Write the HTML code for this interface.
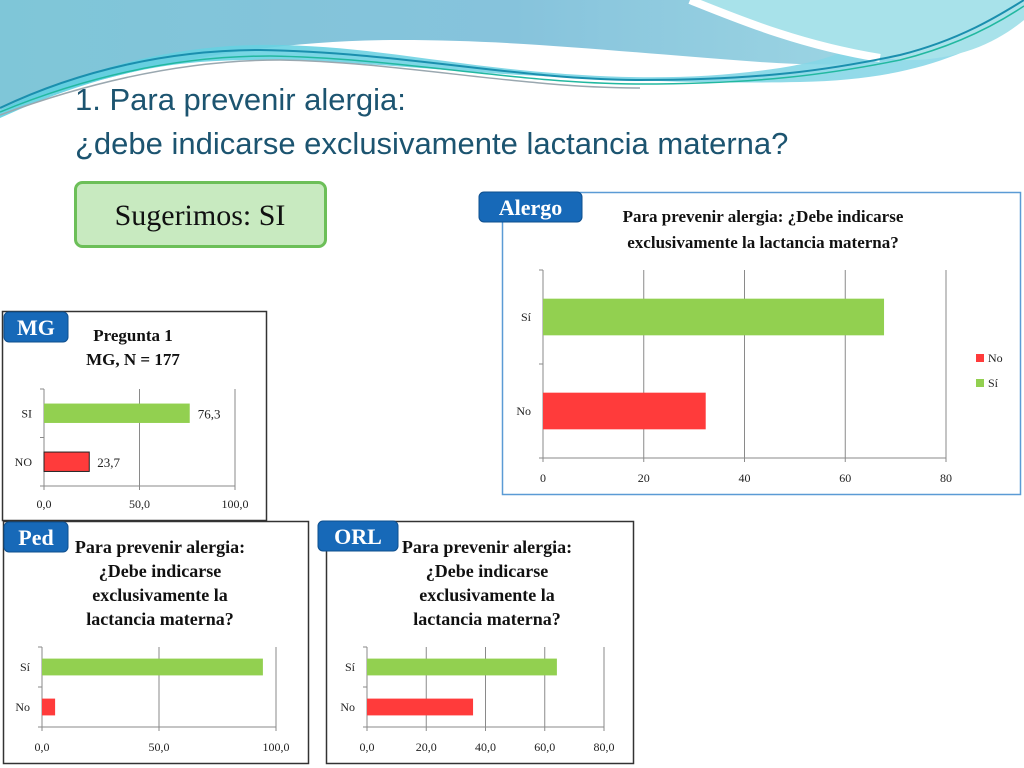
<!DOCTYPE html>
<html><head><meta charset="utf-8"><style>
html,body{margin:0;padding:0;width:1024px;height:768px;overflow:hidden;background:#fff}
svg{display:block;font-family:"Liberation Serif",serif}
</style></head><body>
<svg id="s" width="1024" height="768" viewBox="0 0 1024 768" xmlns="http://www.w3.org/2000/svg">
<defs>
<linearGradient id="g1" x1="0" y1="0" x2="1" y2="0"><stop offset="0" stop-color="#7fc6d8"/><stop offset="0.5" stop-color="#86c3dc"/><stop offset="1" stop-color="#a6dde6"/></linearGradient>
<linearGradient id="g2" x1="0" y1="0" x2="1" y2="0"><stop offset="0" stop-color="#5ccfe0"/><stop offset="0.6" stop-color="#7ad4e4"/><stop offset="1" stop-color="#8fd8e8"/></linearGradient>
</defs>
<g>
<path d="M0 0 H1024 V10 C950 60 880 70 760 62 C620 52 520 40 400 40 C250 40 120 70 0 110 Z" fill="url(#g1)"/>
<path d="M0 110 C60 80 140 52 230 46 C330 40 420 60 520 70 C620 80 700 80 780 68 C830 60 850 50 860 40 L1024 0 V20 C960 60 900 80 800 82 C700 84 620 80 520 75 C400 68 300 55 200 62 C120 68 50 95 0 118 Z" fill="url(#g2)" opacity="0.9"/>
<path d="M700 0 C760 25 820 50 900 60 C960 62 1000 40 1024 20 V0 Z" fill="#a8e2ea"/>
<path d="M690 0 C740 20 800 45 880 58" stroke="#fff" stroke-width="8" fill="none"/>
<path d="M0 108 C80 70 170 50 260 50 C400 52 520 80 640 80 C760 80 830 70 900 55 C960 40 1000 15 1024 0" stroke="#1a8fae" stroke-width="2" fill="none"/>
<path d="M0 112 C90 75 180 56 270 56 C400 58 520 84 640 84 C760 84 830 74 900 60 C960 45 1000 22 1024 6" stroke="#22b8a0" stroke-width="1.5" fill="none"/>
<path d="M0 115 C95 80 190 60 280 60 C400 62 520 88 640 88" stroke="#9aa8b0" stroke-width="1.5" fill="none"/>
</g>
<text x="75" y="110" font-family="Liberation Sans, sans-serif" font-size="31" fill="#1c5470">1. Para prevenir alergia:</text>
<text x="75" y="154" font-family="Liberation Sans, sans-serif" font-size="31" fill="#1c5470">¿debe indicarse exclusivamente lactancia materna?</text>
<g>
<rect x="75.5" y="182.5" width="250" height="64" rx="7" fill="#c8eac0" stroke="#6cbf58" stroke-width="3"/>
<text x="200" y="225" text-anchor="middle" font-size="30" fill="#111">Sugerimos: SI</text>
</g>
<g id="charts"></g>
</svg>
<script>
// Data arrays
const mgCategories = ["SI", "NO"];
const mgValues = [76.3, 23.7];
const mgLabels = ["76,3", "23,7"];
const mgTicks = ["0,0", "50,0", "100,0"];
const mgTickValues = [0, 50, 100];

const alergoCategories = ["Sí", "No"];
const alergoValues = [67.7, 32.3];
const alergoTicks = ["0", "20", "40", "60", "80"];
const alergoTickValues = [0, 20, 40, 60, 80];

const pedCategories = ["Sí", "No"];
const pedValues = [94.4, 5.6];
const pedTicks = ["0,0", "50,0", "100,0"];
const pedTickValues = [0, 50, 100];

const orlCategories = ["Sí", "No"];
const orlValues = [64.1, 35.8];
const orlTicks = ["0,0", "20,0", "40,0", "60,0", "80,0"];
const orlTickValues = [0, 20, 40, 60, 80];

const NS = "http://www.w3.org/2000/svg";
const root = document.getElementById("charts");
const colors = {"SI":"#92d050","Sí":"#92d050","NO":"#ff3b3b","No":"#ff3b3b"};
function mk(tag, attrs, parent, text) {
  const e = document.createElementNS(NS, tag);
  for (const k in attrs) e.setAttribute(k, attrs[k]);
  if (text !== undefined) e.textContent = text;
  (parent || root).appendChild(e);
  return e;
}
function chart(cfg) {
  const g = mk("g", {});
  
  
  const fr = mk("rect", {x: cfg.box[0]+0.5, y: cfg.box[1]+0.5, width: cfg.box[2], height: cfg.box[3], fill: "#fff", stroke: cfg.boxColor, "stroke-width": cfg.boxW}, g);
  
  
  cfg.title.forEach((t, i) => {
    const te = mk("text", {x: cfg.titleX, y: cfg.titleY + i*cfg.titleLH, "text-anchor": "middle", "font-size": cfg.titleFS, "font-weight": "bold", fill: "#111"}, g, t);
    
    
  });
  const maxV = cfg.tickValues[cfg.tickValues.length-1];
  const xs = v => cfg.x0 + (v / maxV) * (cfg.x1 - cfg.x0);
  const n = cfg.cats.length;
  const band = (cfg.y1 - cfg.y0) / n;
  cfg.tickValues.forEach((tv, i) => {
    if (i > 0) {
      const gl = mk("line", {x1: xs(tv), x2: xs(tv), y1: cfg.y0, y2: cfg.y1, stroke: "#8a8a8a", "stroke-width": 1}, g);
      
      
    }
    const tl = mk("text", {x: xs(tv), y: cfg.y1 + cfg.tickDY, "text-anchor": "middle", "font-size": cfg.tickFS, fill: "#222"}, g, cfg.ticks[i]);
    
    
    const tk = mk("line", {x1: xs(tv), x2: xs(tv), y1: cfg.y1, y2: cfg.y1 + 4, stroke: "#8a8a8a"}, g);
    
    
  });
  const ax = mk("line", {x1: cfg.x0, x2: cfg.x0, y1: cfg.y0, y2: cfg.y1, stroke: "#8a8a8a"}, g);
  
  
  const bx = mk("line", {x1: cfg.x0 - 4, x2: xs(maxV), y1: cfg.y1, y2: cfg.y1, stroke: "#8a8a8a"}, g);
  
  
  for (let k = 0; k <= n; k++) {
    const t = mk("line", {x1: cfg.x0 - 4, x2: cfg.x0, y1: cfg.y0 + k*band, y2: cfg.y0 + k*band, stroke: "#8a8a8a"}, g);
    
    
  }
  cfg.cats.forEach((c, i) => {
    const cy = cfg.y0 + band*(i + 0.5);
    const bh = band * cfg.barFrac;
    const b = mk("rect", {x: cfg.x0, y: cy - bh/2, width: xs(cfg.vals[i]) - cfg.x0, height: bh, fill: colors[c], stroke: cfg.barStroke && c === "NO" ? "#222" : "none", "stroke-width": 1}, g);
    
    
    const cl = mk("text", {x: cfg.x0 - 12, y: cy + 4, "text-anchor": "end", "font-size": cfg.catFS, fill: "#222"}, g, c);
    
    
    if (cfg.labels) {
      const vl = mk("text", {x: xs(cfg.vals[i]) + 8, y: cy + 5, "font-size": 13, fill: "#222"}, g, cfg.labels[i]);
      
      
    }
  });
  if (cfg.legend) {
    [["No","#ff3b3b",362],["Sí","#92d050",387]].forEach(([t,col,y]) => {
      const lr = mk("rect", {x: 976, y: y - 8, width: 8, height: 8, fill: col}, g);
      
      
      const lt = mk("text", {x: 988, y: y, "font-size": 12, fill: "#222"}, g, t);
      
      
    });
  }
  // badge
  const bg = mk("g", {}, g);
  
  
  mk("rect", {x: cfg.badge[0], y: cfg.badge[1], width: cfg.badge[2], height: 30, rx: 5, fill: "#1769b8", stroke: "#0e4f8e"}, bg);
  mk("text", {x: cfg.badge[0] + cfg.badge[2]/2, y: cfg.badge[1] + 23, "text-anchor": "middle", "font-size": 22, "font-weight": "bold", fill: "#fff"}, bg, cfg.badgeText);
}
chart({name:"alergo-chart", box:[502,192,518,302], boxColor:"#5b9bd5", boxW:1.5,
  title:["Para prevenir alergia: ¿Debe indicarse","exclusivamente la lactancia materna?"], titleX:763, titleY:222, titleLH:26, titleFS:17,
  cats:alergoCategories, vals:alergoValues, ticks:alergoTicks, tickValues:alergoTickValues,
  x0:543, x1:946, y0:270, y1:458, tickDY:24, tickFS:12, catFS:12, barFrac:0.39, legend:true,
  badge:[479,192,103], badgeText:"Alergo"});
chart({name:"mg-chart", box:[2,311,264,209], boxColor:"#333", boxW:1.5,
  title:["Pregunta 1","MG, N = 177"], titleX:133, titleY:341, titleLH:24, titleFS:17,
  cats:mgCategories, vals:mgValues, labels:mgLabels, ticks:mgTicks, tickValues:mgTickValues,
  x0:44, x1:235, y0:389, y1:486, tickDY:22, tickFS:12, catFS:12, barFrac:0.4, barStroke:true,
  badge:[4,312,64], badgeText:"MG"});
chart({name:"ped-chart", box:[3,521,305,242], boxColor:"#333", boxW:1.5,
  title:["Para prevenir alergia:","¿Debe indicarse","exclusivamente la","lactancia materna?"], titleX:160, titleY:553, titleLH:24, titleFS:18,
  cats:pedCategories, vals:pedValues, ticks:pedTicks, tickValues:pedTickValues,
  x0:42, x1:276, y0:647, y1:727, tickDY:24, tickFS:12, catFS:12, barFrac:0.42,
  badge:[4,522,64], badgeText:"Ped"});
chart({name:"orl-chart", box:[326,521,307,242], boxColor:"#333", boxW:1.5,
  title:["Para prevenir alergia:","¿Debe indicarse","exclusivamente la","lactancia materna?"], titleX:487, titleY:553, titleLH:24, titleFS:18,
  cats:orlCategories, vals:orlValues, ticks:orlTicks, tickValues:orlTickValues,
  x0:367, x1:604, y0:647, y1:727, tickDY:24, tickFS:12, catFS:12, barFrac:0.42,
  badge:[318,521,80], badgeText:"ORL"});
</script>
</body></html>
